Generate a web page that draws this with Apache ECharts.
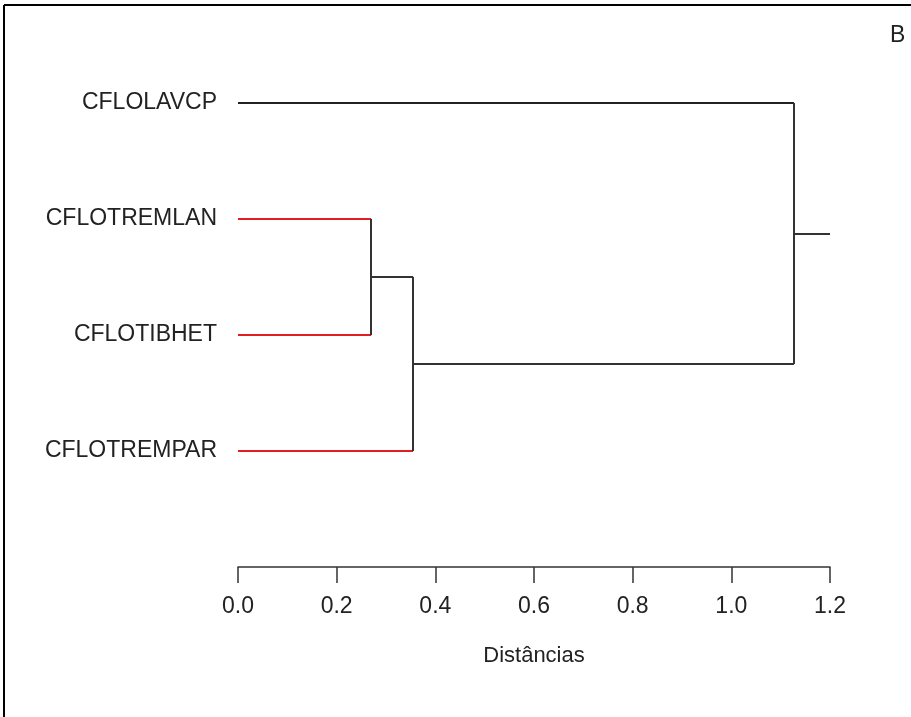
<!DOCTYPE html>
<html>
<head>
<meta charset="utf-8">
<script src="https://cdn.jsdelivr.net/npm/echarts@6/dist/echarts.min.js"></script>
<style>html,body{margin:0;padding:0;background:#fff}#c{width:911px;height:717px}</style>
</head>
<body>
<div id="c"></div>
<script>
// Leaves (top to bottom)
var leaves = ['CFLOLAVCP', 'CFLOTREMLAN', 'CFLOTIBHET', 'CFLOTREMPAR'];
var leafColors = ['#222222', '#e02020', '#e02020', '#e02020'];
// Merges: [left node, right node, distance]; node ids >= leaves.length refer to earlier merges
var merges = [
  [1, 2, 0.27],
  [4, 3, 0.355],
  [0, 5, 1.127]
];
var rootEnd = 1.2;
var xTicks = [0, 0.2, 0.4, 0.6, 0.8, 1.0, 1.2];
var xTitle = 'Distâncias';
var panelLetter = 'B';

var LINE = '#333333';
var nodes = leaves.map(function (n, i) { return { x: 0, y: i }; });
var segs = [];
merges.forEach(function (m) {
  var a = nodes[m[0]], b = nodes[m[1]], h = m[2];
  var ca = m[0] < leaves.length ? leafColors[m[0]] : LINE;
  var cb = m[1] < leaves.length ? leafColors[m[1]] : LINE;
  segs.push({ coords: [[a.x, a.y], [h, a.y]], lineStyle: { color: ca } });
  segs.push({ coords: [[b.x, b.y], [h, b.y]], lineStyle: { color: cb } });
  segs.push({ coords: [[h, a.y], [h, b.y]], lineStyle: { color: LINE } });
  nodes.push({ x: h, y: (a.y + b.y) / 2 });
});
var root = nodes[nodes.length - 1];
segs.push({ coords: [[root.x, root.y], [rootEnd, root.y]], lineStyle: { color: LINE } });

var chart = echarts.init(document.getElementById('c'));
var FONT = 'Liberation Sans, Arial, sans-serif';
chart.setOption({
  animation: false,
  backgroundColor: '#ffffff',
  grid: { left: 238, right: 81, top: 103, bottom: 150, containLabel: false },
  xAxis: {
    type: 'value', min: xTicks[0], max: xTicks[xTicks.length - 1], interval: 0.2,
    position: 'bottom',
    splitLine: { show: false },
    axisLine: { show: true, onZero: false, lineStyle: { color: LINE, width: 1.5 } },
    axisTick: { show: true, inside: false, length: 16, lineStyle: { color: LINE, width: 1.5 } },
    axisLabel: { margin: 28, color: '#222', fontSize: 23, fontFamily: FONT,
      formatter: function (v) { return v.toFixed(1); } },
    name: xTitle, nameLocation: 'middle', nameGap: 78,
    nameTextStyle: { color: '#222', fontSize: 22, fontFamily: FONT }
  },
  yAxis: {
    type: 'value', inverse: true, min: 0, max: 4, interval: 1,
    splitLine: { show: false },
    axisLine: { show: false }, axisTick: { show: false },
    axisLabel: { margin: 21, color: '#222', fontSize: 23, fontFamily: FONT,
      formatter: function (v) { return leaves[v] || ''; } }
  },
  graphic: [
    { type: 'line', shape: { x1: 4, y1: 5, x2: 911, y2: 5 }, style: { stroke: '#000', lineWidth: 2 } },
    { type: 'line', shape: { x1: 4, y1: 5, x2: 4, y2: 717 }, style: { stroke: '#000', lineWidth: 2 } },
    { type: 'text', left: 890, top: 24, style: { text: panelLetter, fill: '#222', fontSize: 23, fontFamily: FONT } }
  ],
  series: [{
    type: 'lines', coordinateSystem: 'cartesian2d', polyline: false,
    lineStyle: { width: 2, opacity: 1 },
    data: segs, silent: true
  }]
});
</script>
</body>
</html>
